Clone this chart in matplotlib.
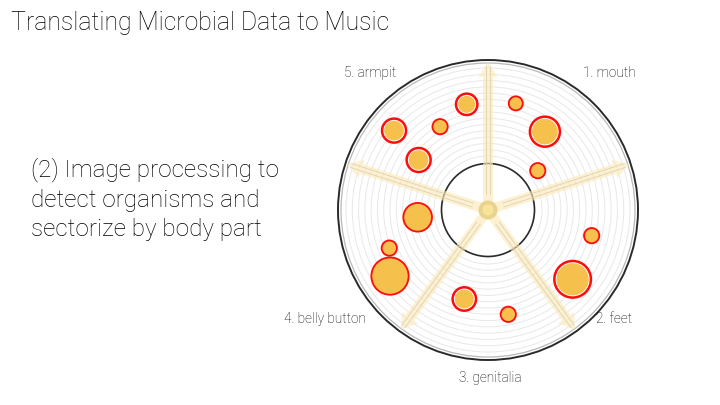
import numpy as np
import matplotlib
matplotlib.use("Agg")
import matplotlib.pyplot as plt
from matplotlib.patches import Circle, FancyArrow

# sectors (body parts) and the direction of the dividing arrows, degrees
sector_labels = ["1. mouth", "2. feet", "3. genitalia", "4. belly button", "5. armpit"]
arrow_angles = [90, 18, -54, -126, 162]

# organisms found on the plate: angle (deg), distance from centre, radius, white rim
org_angle = [101.4, 75.4, 54.0, 119.9, 139.8, 144.2, 38.3, 185.9,
             -13.9, 201.1, 214.0, -39.3, -104.9, -79.0]
org_dist = [107.8, 110.2, 96.8, 96.1, 123.0, 85.5, 63.4, 70.7,
            106.8, 105.8, 118.2, 109.4, 92.1, 106.3]
org_size = [10.7, 6.7, 15.0, 7.3, 12.0, 12.0, 7.3, 14.0,
            7.3, 7.3, 18.3, 18.3, 11.7, 7.3]
org_rim = [1, 0, 1, 0, 1, 1, 0, 0, 0, 0, 0, 1, 1, 0]

cx, cy = 488, 210
R_OUT = 150
R_IN = 46.5

fig = plt.figure(figsize=(7.2, 4.05), dpi=100)
ax = fig.add_axes([0, 0, 1, 1])
ax.set_xlim(0, 720)
ax.set_ylim(405, 0)
ax.axis("off")

font = dict(family=["Roboto", "DejaVu Sans"], fontweight="light", color="#000000")

ax.text(11, 30, "Translating Microbial Data to Music", fontsize=17.8, **font)
ax.text(31, 236, "(2) Image processing to\ndetect organisms and\nsectorize by body part",
        fontsize=17.5, va="baseline", linespacing=1.36, **font)

# plate: rings, outer rim, inner circle
for r in np.linspace(54, 142, 15):
    ax.add_patch(Circle((cx, cy), r, fill=False, ec="#e8e8e8", lw=0.7))
ax.add_patch(Circle((cx, cy), R_OUT - 3, fill=False, ec="#b8b8b8", lw=0.9))
ax.add_patch(Circle((cx, cy), R_OUT, fill=False, ec="#2a2a2a", lw=1.4))
ax.add_patch(Circle((cx, cy), R_IN, fill=False, ec="#2a2a2a", lw=1.2))

# arrows dividing the sectors
for a in arrow_angles:
    t = np.deg2rad(a)
    ux, uy = np.cos(t), -np.sin(t)
    ax.add_patch(FancyArrow(cx, cy, ux * 148, uy * 148, width=10, head_width=19,
                            head_length=15, length_includes_head=True,
                            fc="#fce9b4", ec="none", alpha=0.6, zorder=3))
    px, py = -uy, ux
    for off in (-2, 2):
        ax.plot([cx + ux * 16 + px * off, cx + ux * 144 + px * off],
                [cy + uy * 16 + py * off, cy + uy * 144 + py * off],
                color="#dcd3b4", lw=0.6, zorder=4)

ax.add_patch(Circle((cx, cy), 9.5, fc="#e8d48e", ec="none", zorder=5))
ax.add_patch(Circle((cx, cy), 5.5, fc="#fae39a", ec="none", zorder=6))

# organisms
for ang, d, s, rim in zip(org_angle, org_dist, org_size, org_rim):
    t = np.deg2rad(ang)
    x, y = cx + d * np.cos(t), cy - d * np.sin(t)
    ax.add_patch(Circle((x, y), s, fc="white", ec="#ff0d0d", lw=1.8, zorder=7))
    inner = s - (2.2 if rim else 0.6)
    ax.add_patch(Circle((x, y), inner, fc="#f5c04c", ec="none", zorder=8))

# sector labels
label_pos = [(609, 73, "center"), (632, 319, "right"), (490, 378, "center"),
             (366, 319, "right"), (370, 73, "center")]
for lab, (x, y, ha) in zip(sector_labels, label_pos):
    ax.text(x, y, lab, fontsize=9.8, ha=ha, va="center", **font)

fig.savefig("out.png", dpi=100)
